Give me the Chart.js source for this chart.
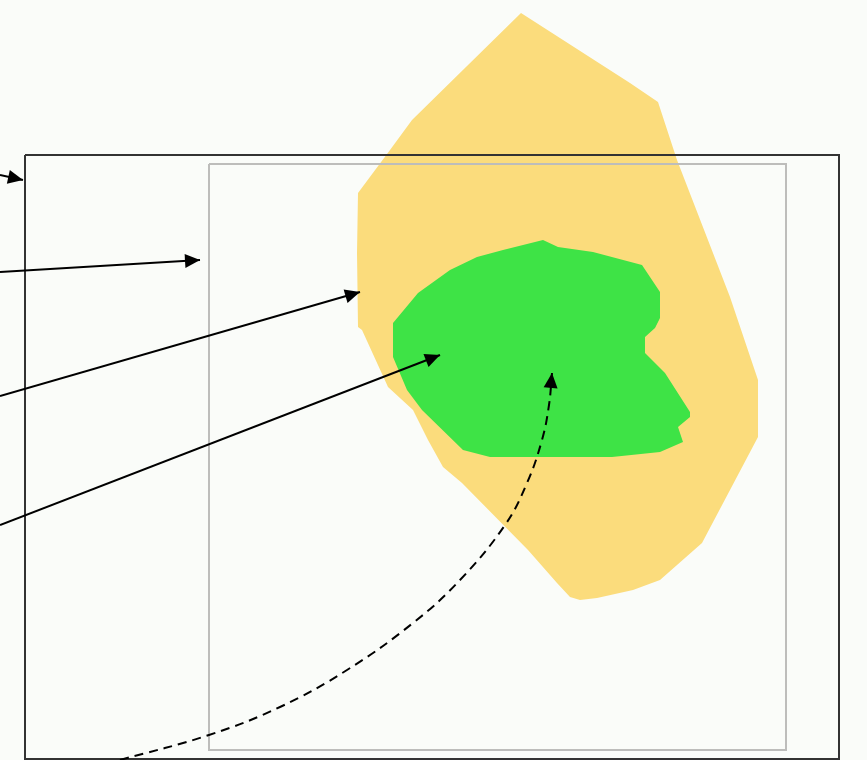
<!DOCTYPE html>
<html>
<head>
<meta charset="utf-8">
<title>Zones</title>
<script src="https://cdn.jsdelivr.net/npm/chart.js@4/dist/chart.umd.min.js"></script>
<style>
  html, body { margin: 0; padding: 0; background: #fafcf9; overflow: hidden; }
  canvas { display: block; }
</style>
</head>
<body>
<canvas id="zoneChart" width="867" height="760"></canvas>
<script>
// outline points, [x, y] with y going down
const outerZone = [
  [521, 13], [630, 83], [658, 102], [677, 160], [730, 297], [758, 380],
  [758, 437], [702, 543], [660, 580], [633, 590], [597, 598], [580, 600],
  [570, 597], [557, 583], [528, 550], [462, 483], [443, 467], [428, 440],
  [413, 410], [388, 387], [362, 330], [358, 327], [357, 253], [358, 193],
  [390, 150], [412, 120]
];

const innerZone = [
  [543, 240], [558, 247], [593, 252], [642, 265], [660, 292], [660, 318],
  [655, 328], [645, 337], [645, 353], [665, 373], [690, 412], [690, 417],
  [678, 427], [683, 442], [660, 452], [612, 457], [490, 457], [463, 450],
  [422, 410], [407, 390], [393, 357], [393, 323], [418, 293], [450, 270],
  [477, 257], [503, 250]
];

const outerBox = [[25, 155], [839, 155], [839, 759], [25, 759], [25, 155]];
const innerBox = [[209, 164], [786, 164], [786, 750], [209, 750], [209, 164]];

const arrowA = [[0, 175], [23, 180]];
const arrowB = [[0, 272], [200, 260]];
const arrowC = [[0, 396], [360, 292]];
const arrowD = [[0, 525], [440, 355]];
const curveArrow = [
  [120, 760], [209, 735], [280, 707], [347, 670], [413, 623], [460, 580],
  [505, 525], [527, 483], [542, 440], [549, 405], [552, 373]
];

function toPoints(list) {
  return list.map(p => ({ x: p[0], y: p[1] }));
}

function arrowSet(list, dashed) {
  return {
    data: toPoints(list),
    showLine: true,
    borderColor: '#000',
    borderWidth: 2,
    borderDash: dashed ? [9, 6] : [],
    pointRadius: 0,
    tension: dashed ? 0.4 : 0,
    fill: false,
    arrow: true,
    order: 1
  };
}

// draws a filled head at the last point of every dataset marked arrow
const arrowHeads = {
  id: 'arrowHeads',
  afterDatasetsDraw(chart) {
    const ctx = chart.ctx;
    chart.data.datasets.forEach((ds, i) => {
      if (!ds.arrow) return;
      const pts = chart.getDatasetMeta(i).data;
      const tip = pts[pts.length - 1];
      const prev = pts[pts.length - 2];
      const ang = Math.atan2(tip.y - prev.y, tip.x - prev.x);
      const len = 15, half = 7;
      ctx.save();
      ctx.fillStyle = '#000';
      ctx.beginPath();
      ctx.moveTo(tip.x, tip.y);
      ctx.lineTo(tip.x - len * Math.cos(ang) + half * Math.sin(ang), tip.y - len * Math.sin(ang) - half * Math.cos(ang));
      ctx.lineTo(tip.x - len * Math.cos(ang) - half * Math.sin(ang), tip.y - len * Math.sin(ang) + half * Math.cos(ang));
      ctx.closePath();
      ctx.fill();
      ctx.restore();
    });
  }
};

const ctx = document.getElementById('zoneChart').getContext('2d');

new Chart(ctx, {
  type: 'scatter',
  data: {
    datasets: [
      {
        data: toPoints(outerZone),
        showLine: true,
        borderWidth: 0,
        borderColor: 'rgba(0,0,0,0)',
        backgroundColor: '#fbdc7c',
        pointRadius: 0,
        fill: 'shape',
        order: 6
      },
      {
        data: toPoints(innerZone),
        showLine: true,
        borderWidth: 0,
        borderColor: 'rgba(0,0,0,0)',
        backgroundColor: '#3ee346',
        pointRadius: 0,
        fill: 'shape',
        order: 5
      },
      {
        data: toPoints(innerBox),
        showLine: true,
        borderColor: '#bdbdbb',
        borderWidth: 2,
        pointRadius: 0,
        fill: false,
        order: 4
      },
      {
        data: toPoints(outerBox),
        showLine: true,
        borderColor: '#333333',
        borderWidth: 2,
        pointRadius: 0,
        fill: false,
        order: 3
      },
      arrowSet(arrowA, false),
      arrowSet(arrowB, false),
      arrowSet(arrowC, false),
      arrowSet(arrowD, false),
      arrowSet(curveArrow, true)
    ]
  },
  options: {
    responsive: false,
    animation: false,
    layout: { padding: 0 },
    plugins: {
      legend: { display: false },
      tooltip: { enabled: false }
    },
    scales: {
      x: { type: 'linear', min: 0, max: 867, display: false },
      y: { type: 'linear', min: 0, max: 760, reverse: true, display: false }
    }
  },
  plugins: [arrowHeads]
});
</script>
</body>
</html>
